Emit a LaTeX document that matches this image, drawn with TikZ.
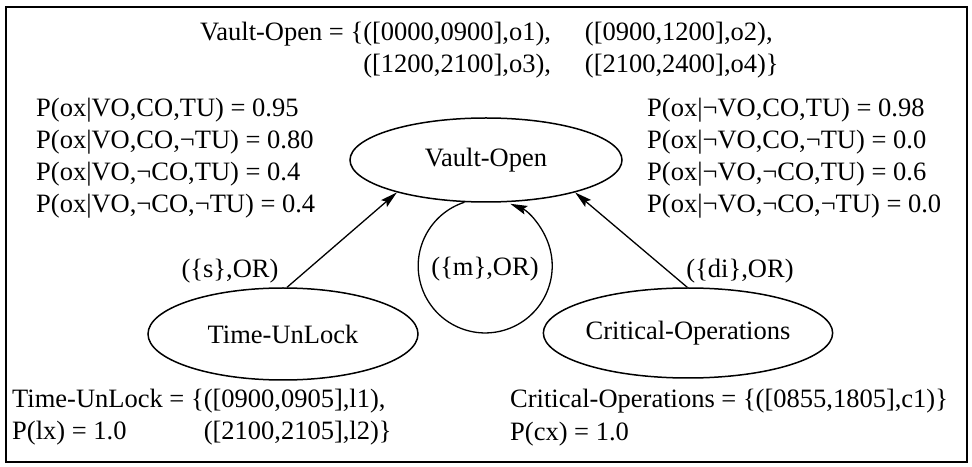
\documentclass[tikz,border=0pt]{standalone}
\usepackage{fontspec}
\setmainfont{Liberation Serif}
\usetikzlibrary{shapes.geometric,arrows.meta}
\begin{document}
\begin{tikzpicture}[x=1pt,y=1pt,
  every node/.style={font=\fontsize{26.5}{32}\selectfont, inner sep=0pt},
  txt/.style={anchor=base west},
  statenode/.style={draw, ellipse, line width=1.5pt, minimum width=270pt, minimum height=90pt},
  lab/.style={anchor=center},
  arr/.style={line width=1.3pt, -{Stealth[length=17pt,width=9pt,inset=3pt]}},
  frame/.style={line width=1.6pt}]
\useasboundingbox (0,0) rectangle (972,466);
\draw[frame] (6,4) rectangle (967,459);

% top definition
\node[txt] (vodef) at (200,425) {\begin{tabular}[t]{@{}l@{}l@{\hspace{34pt}}l@{}}
Vault-Open = \{ & ([0000,0900],o1), & ([0900,1200],o2),\\
 & ([1200,2100],o3), & ([2100,2400],o4)\}
\end{tabular}};

% left probabilities
\node[txt] (pl1) at (36,349) {P(ox|VO,CO,TU) = 0.95};
\node[txt] (pl2) at (36,317) {P(ox|VO,CO,¬TU) = 0.80};
\node[txt] (pl3) at (36,285) {P(ox|VO,¬CO,TU) = 0.4};
\node[txt] (pl4) at (36,253) {P(ox|VO,¬CO,¬TU) = 0.4};

% right probabilities
\node[txt] (pr1) at (647,349) {P(ox|¬VO,CO,TU) = 0.98};
\node[txt] (pr2) at (647,317) {P(ox|¬VO,CO,¬TU) = 0.0};
\node[txt] (pr3) at (647,285) {P(ox|¬VO,¬CO,TU) = 0.6};
\node[txt] (pr4) at (647,253) {P(ox|¬VO,¬CO,¬TU) = 0.0};

% state nodes
\node[statenode, minimum width=272pt, minimum height=84pt] (vo) at (486,306) {Vault-Open};
\node[statenode, minimum height=92pt] (tu) at (283,132) {Time-UnLock};
\node[statenode] (co) at (688,133) {Critical-Operations};

% connectors
\draw[arr] (tu.85) -- (vo.200);
\draw[arr] (co.91) -- (vo.340);
\draw[arr] (vo.243) arc[start angle=108, end angle=428, radius=67];

% connector labels
\node[lab] (ls) at (230,195) {(\{s\},OR)};
\node[lab] (lm) at (485,197) {(\{m\},OR)};
\node[lab] (ld) at (740,195) {(\{di\},OR)};

% bottom definitions
\node[txt] (tudef) at (12,58) {\begin{tabular}[t]{@{}l@{}l@{}}
Time-UnLock = \{ & ([0900,0905],l1),\\
P(lx) = 1.0 & ([2100,2105],l2)\}
\end{tabular}};
\node[txt] (codef) at (510,58) {Critical-Operations = \{([0855,1805],c1)\}};
\node[txt] (cop) at (510,26) {P(cx) = 1.0};
\end{tikzpicture}
\end{document}
